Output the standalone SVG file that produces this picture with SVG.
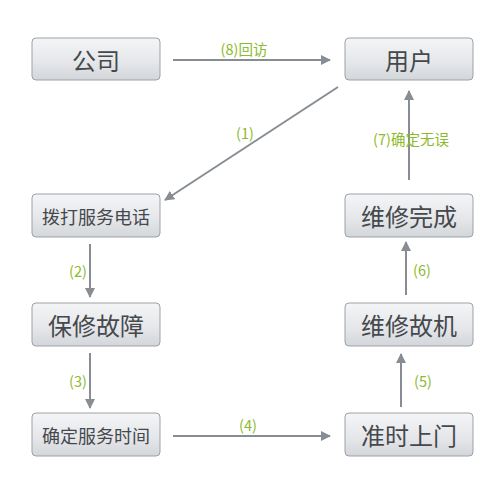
<svg xmlns="http://www.w3.org/2000/svg" width="504" height="493" viewBox="0 0 504 493">
<defs>
<linearGradient id="g" x1="0" y1="0" x2="0" y2="1">
<stop offset="0" stop-color="#f4f5f7"/>
<stop offset="0.6" stop-color="#e4e6e9"/>
<stop offset="1" stop-color="#d3d6da"/>
</linearGradient>
<marker id="ah" viewBox="0 0 10 10" refX="9" refY="5" markerWidth="5" markerHeight="5" markerUnits="strokeWidth" orient="auto">
<path d="M0,0 L10,5 L0,10 z" fill="#878d93"/>
</marker>
<style>
.box{fill:url(#g);stroke:#9da1a6;stroke-width:1}
.t{font-family:"Noto Sans CJK SC","Liberation Sans",sans-serif;fill:#45484c;text-anchor:middle;dominant-baseline:central}
.big{font-size:24px}
.sm{font-size:18px}
.c{stroke:#878d93;stroke-width:2;fill:none;marker-end:url(#ah)}
.l{font-family:"Noto Sans CJK SC","Liberation Sans",sans-serif;font-size:14.5px;fill:#8cba2a;text-anchor:middle;dominant-baseline:central}
</style>
</defs>
<rect width="504" height="493" fill="#ffffff"/>
<g id="n-gongsi"><rect class="box" x="32" y="38" width="128" height="42" rx="4"/><text class="t big" x="96" y="59">公司</text></g>
<g id="n-yonghu"><rect class="box" x="345" y="38" width="128" height="42" rx="4"/><text class="t big" x="409" y="59">用户</text></g>
<g id="n-boda"><rect class="box" x="32" y="194" width="128" height="43" rx="4"/><text class="t sm" x="96" y="215.5">拨打服务电话</text></g>
<g id="n-baoxiu"><rect class="box" x="32" y="303" width="128" height="43" rx="4"/><text class="t big" x="96" y="324.5">保修故障</text></g>
<g id="n-queding"><rect class="box" x="32" y="413" width="128" height="43" rx="4"/><text class="t sm" x="96" y="434.5">确定服务时间</text></g>
<g id="n-wancheng"><rect class="box" x="345" y="194" width="128" height="43" rx="4"/><text class="t big" x="409" y="215.5">维修完成</text></g>
<g id="n-guji"><rect class="box" x="345" y="303" width="128" height="43" rx="4"/><text class="t big" x="409" y="324.5">维修故机</text></g>
<g id="n-shangmen"><rect class="box" x="345" y="413" width="128" height="43" rx="4"/><text class="t big" x="409" y="434.5">准时上门</text></g>
<g id="connectors">
<line class="c" x1="173" y1="60" x2="330" y2="60"/>
<line class="c" x1="338" y1="87" x2="165" y2="200"/>
<line class="c" x1="90" y1="244" x2="90" y2="297"/>
<line class="c" x1="90" y1="353" x2="90" y2="408"/>
<line class="c" x1="173" y1="436" x2="330" y2="436"/>
<line class="c" x1="401" y1="407" x2="401" y2="354"/>
<line class="c" x1="406" y1="295" x2="406" y2="242"/>
<line class="c" x1="409" y1="180" x2="409" y2="91"/>
</g>
<g id="labels">
<text class="l" x="244" y="48">(8)回访</text>
<text class="l" x="245" y="132">(1)</text>
<text class="l" x="78" y="270">(2)</text>
<text class="l" x="78" y="380">(3)</text>
<text class="l" x="248" y="424">(4)</text>
<text class="l" x="423" y="380">(5)</text>
<text class="l" x="422" y="269">(6)</text>
<text class="l" x="411" y="138">(7)确定无误</text>
</g>
</svg>
